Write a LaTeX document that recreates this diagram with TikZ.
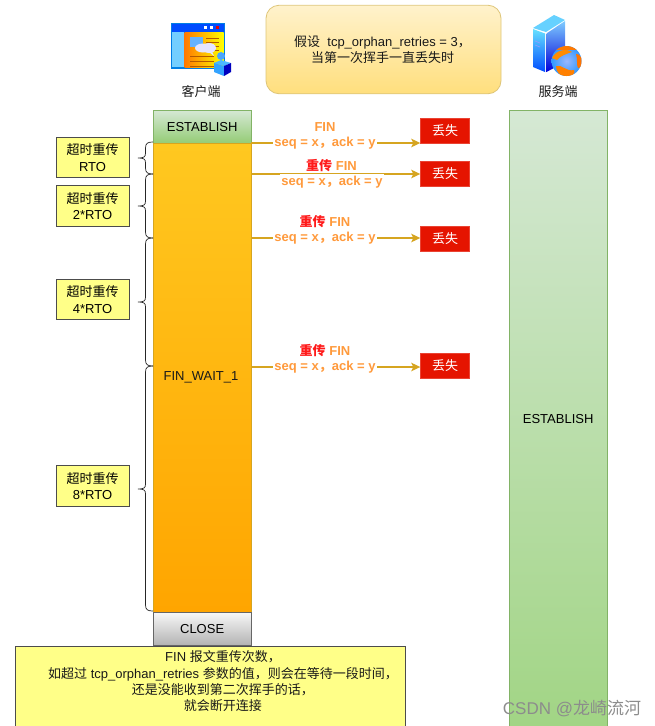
\documentclass[tikz,border=0pt]{standalone}
\usepackage{fontspec}
\setmainfont{Liberation Sans}
\newfontfamily\cjk{Noto Sans CJK SC}
\newcommand{\zh}[1]{{\cjk #1}}
\usetikzlibrary{arrows.meta,calc}
\definecolor{flowc}{HTML}{D6A520}
\definecolor{lab}{HTML}{FF9A3C}
\definecolor{redt}{HTML}{FF1A1A}
\definecolor{lossr}{HTML}{E51400}
\definecolor{noteY}{HTML}{FFFF88}
\definecolor{gE1}{HTML}{D5E8D4}
\definecolor{gE2}{HTML}{97D077}
\definecolor{gEb}{HTML}{82B366}
\definecolor{fw1}{HTML}{FFC820}
\definecolor{fw2}{HTML}{FFA500}
\definecolor{nt1}{HTML}{FFF2CC}
\definecolor{nt2}{HTML}{FFD966}
\definecolor{ntb}{HTML}{D6B656}
\tikzset{
  x=1pt,y=-1pt,
  txt/.style={font=\fontsize{13}{16.3}\selectfont,align=center,text=black!90,inner sep=0pt},
  bar/.style={anchor=north west,minimum width=97.5pt,inner sep=0pt,line width=.8pt,font=\fontsize{13}{16}\selectfont},
  fwait/.style={bar,draw=flowc,top color=fw1,bottom color=fw2},
  closing/.style={bar,draw=black!60,top color=black!3,bottom color=black!30},
  rtobox/.style={draw=black!70,line width=.9pt,fill=noteY,minimum width=73pt,minimum height=40.5pt,inner sep=0pt,align=center,font=\fontsize{13}{16.5}\selectfont},
  lossbox/.style={draw=lossr!80!white,fill=lossr,text=white,minimum width=49pt,minimum height=25pt,inner sep=0pt,font=\fontsize{13}{14}\selectfont},
  flow/.style={draw=flowc,line width=1.4pt,-{Stealth[length=9pt,width=8.5pt,inset=2pt]}},
  seqlab/.style={fill=white,inner sep=1pt,text=lab,font=\fontsize{13}{14}\selectfont\bfseries},
  finlab/.style={inner sep=0pt,text=lab,font=\fontsize{13}{14}\selectfont\bfseries},
  bracep/.style={draw=black!85,line width=.7pt},
}
\newcommand{\brc}[3]{% top, tip, bottom
  \draw[bracep] (153,#1) .. controls (148,#1) and (145.5,#1+1) .. (145.5,#1+6)
   -- (145.5,#2-5) .. controls (145.5,#2-1) and (144,#2) .. (138,#2)
   .. controls (144,#2) and (145.5,#2+1) .. (145.5,#2+5)
   -- (145.5,#3-6) .. controls (145.5,#3-1) and (148,#3) .. (153,#3);}
\begin{document}
\begin{tikzpicture}
\useasboundingbox (0,0) rectangle (655,726);
\clip (0,0) rectangle (655,726);
% server bar
\node[bar,minimum height=618pt,draw=gEb,top color=gE1,bottom color=gE2!90!white] (srv) at (509,110) {ESTABLISH};
% client bars
\node[bar,minimum height=33pt,draw=gEb,top color=gE1,bottom color=gE2!85!gEb] (est) at (153,110) {ESTABLISH};
\node[fwait,minimum height=469pt] (fw) at (153,143) {};
\node[txt] (fwl) at (201,377) {FIN\_WAIT\_1};
\node[closing,minimum height=33pt] (cl) at (153,612) {CLOSE};
% top note
\node[draw=ntb!80!white,line width=.8pt,rounded corners=13pt,top color=nt1,bottom color=nt2!85!white,minimum width=235pt,minimum height=88.5pt,inner sep=0pt] (nt) at (383.5,49.5) {};
\node[txt] (ntx) at (382.5,49.5) {\zh{假设}\ \ tcp\_orphan\_retries = 3\zh{，}\\ \zh{当第一次挥手一直丢失时}};
% client icon
\begin{scope}
\fill[blue!45!cyan!90!black] (171,23) rectangle (224.5,69);
\fill[blue!70!cyan] (172,24) rectangle (223.5,32);
\fill[white] (204,25.5) rectangle (207,28.5);
\fill[white] (210,25.5) rectangle (213,28.5);
\fill[red!90!black] (216,25.5) rectangle (219,28.5);
\fill[blue!35!cyan!55!white] (172,32) rectangle (184,67);
\shade[left color=orange!95!red,right color=yellow] (184.5,32) rectangle (223.5,67);
\fill[blue!50!cyan!60!white] (190,37) rectangle (203,47);
\foreach \yy in {38,42,46,50} \draw[black!30!orange,line width=1pt] (206,\yy) -- (219,\yy);
\foreach \yy in {56,61,66} \draw[black!30!orange,line width=1pt] (190,\yy) -- (214,\yy);
\fill[white!90!blue] (203,48) ellipse (8 and 4.5);
\fill[white!90!blue] (209,48) ellipse (7 and 5);
\fill[white!90!blue] (209,52) -- (214,56) -- (211,49) -- cycle;
\fill[blue!50!cyan!70!white] (221,56) circle (4);
\fill[blue!40!cyan!70!white] (214,63) -- (221,60) -- (231,63) -- (224,66) -- cycle;
\fill[blue!45!cyan!80!white] (214,63) -- (224,66) -- (224,76) -- (214,72) -- cycle;
\fill[blue!75!black] (224,66) -- (231,63) -- (231,72) -- (224,76) -- cycle;
\end{scope}
\node[txt] (cn) at (201,92) {\zh{客户端}};
% server icon
\begin{scope}
\fill[blue!30!cyan!60!white] (533,28) -- (554,15) -- (565,20) -- (546,32) -- cycle;
\shade[top color=blue!20!cyan!60!white,bottom color=blue!70!cyan] (533,29) -- (545,33.5) -- (545,72) -- (533,67) -- cycle;
\shade[top color=blue!40!cyan!50!white,bottom color=blue!85!black] (546.5,33.5) -- (565,21) -- (565,62) -- (546.5,72) -- cycle;
\draw[white!60!blue,line width=.6pt] (535,41) -- (540,43) (535,45) -- (540,47);
\begin{scope}
\clip (566.5,61) circle (15);
\shade[inner color=cyan!30!blue!40!white,outer color=blue!50!cyan!80!white] (566.5,61) circle (15);
\fill[orange!95!red] (553,45) rectangle (582,50);
\fill[orange!90!yellow] (552,58) .. controls (556,50) and (566,48) .. (572,52) .. controls (566,54) and (560,56) .. (557,60) -- cycle;
\fill[orange] (556,66) .. controls (562,64) and (566,72) .. (574,70) .. controls (576,72) and (572,78) .. (566,77) .. controls (560,76) and (556,72) .. (556,66) -- cycle;
\fill[orange!90!red] (576,54) .. controls (584,54) and (584,68) .. (578,68) .. controls (576,64) and (578,60) .. (576,54) -- cycle;
\end{scope}
\end{scope}
\node[txt] (sn) at (558,92) {\zh{服务端}};
% RTO boxes
\node[rtobox] (r1) at (92.5,157.5) {\zh{超时重传}\\RTO};
\node[rtobox] (r2) at (92.5,206) {\zh{超时重传}\\2*RTO};
\node[rtobox] (r3) at (92.5,299.5) {\zh{超时重传}\\4*RTO};
\node[rtobox] (r4) at (92.5,486) {\zh{超时重传}\\8*RTO};
% braces
\brc{142}{158}{174}
\brc{174}{206}{238}
\brc{238}{302}{366}
\brc{366}{489}{611}
% loss boxes
\node[lossbox] (l1) at (445,130.5) {\zh{丢失}};
\node[lossbox] (l2) at (445,173.5) {\zh{丢失}};
\node[lossbox] (l3) at (445,238.5) {\zh{丢失}};
\node[lossbox] (l4) at (445,365.5) {\zh{丢失}};
\coordinate (a1) at (300,143);
\coordinate (a2) at (300,174);
\coordinate (a3) at (300,238);
\coordinate (a4) at (300,367);
\draw[flow] (fw.east |- a1) -- (l1.west |- a1);
\draw[flow] (fw.east |- a2) -- (l2.west |- a2);
\draw[flow] (fw.east |- a3) -- (l3.west |- a3);
\draw[flow] (fw.east |- a4) -- (l4.west |- a4);
% labels
\node[seqlab] (s1) at (325,143.5) {seq = x\zh{，}ack = y};
\node[finlab] (f1) at (325,127) {FIN};
\node[seqlab,minimum height=17pt] (s2) at (332,182.5) {seq = x\zh{，}ack = y};
\node[finlab] (f2) at (331.5,165.5) {\textcolor{redt}{\zh{重传}} FIN};
\node[seqlab] (s3) at (325,238.5) {seq = x\zh{，}ack = y};
\node[finlab] (f3) at (325,221.5) {\textcolor{redt}{\zh{重传}} FIN};
\node[seqlab] (s4) at (325,367.5) {seq = x\zh{，}ack = y};
\node[finlab] (f4) at (325,350.5) {\textcolor{redt}{\zh{重传}} FIN};
% bottom note
\node[draw=black!70,line width=.9pt,fill=noteY,anchor=north west,minimum width=390pt,minimum height=95pt,inner sep=0pt] (bn) at (15,645.5) {};
\node[txt,anchor=north] (bnt) at (223,650.5) {FIN \zh{报文重传次数，}\\ \zh{如超过} tcp\_orphan\_retries \zh{参数的值，则会在等待一段时间，}\\ \zh{还是没能收到第二次挥手的话，}\\ \zh{就会断开连接}};
% watermark
\node[inner sep=0pt,text=black!45,font=\fontsize{17}{20}\selectfont] (wm) at (572,708.5) {CSDN @\zh{龙崎流河}};
\end{tikzpicture}
\end{document}
